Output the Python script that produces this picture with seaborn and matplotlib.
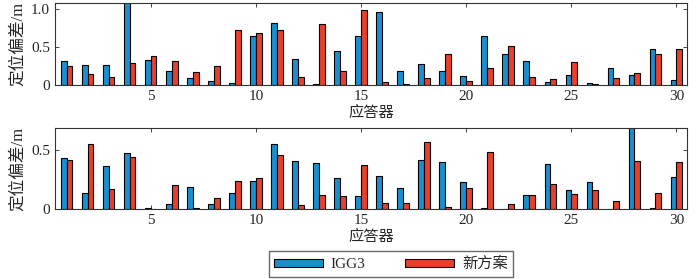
import numpy as np
import pandas as pd
import matplotlib.pyplot as plt
import seaborn as sns

# 应答器 1..30
idx = list(range(1, 31))

# top panel
top_igg3 = [0.31, 0.27, 0.26, 1.20, 0.33, 0.18, 0.09, 0.05, 0.02, 0.65,
            0.82, 0.34, 0.01, 0.45, 0.65, 0.955, 0.18, 0.275, 0.19, 0.115,
            0.65, 0.41, 0.31, 0.035, 0.13, 0.02, 0.23, 0.13, 0.48, 0.06]
top_new = [0.245, 0.147, 0.10, 0.285, 0.38, 0.31, 0.17, 0.245, 0.72, 0.68,
           0.73, 0.10, 0.80, 0.19, 0.99, 0.035, 0.01, 0.09, 0.41, 0.05,
           0.23, 0.52, 0.10, 0.075, 0.30, 0.01, 0.09, 0.16, 0.41, 0.47]

# bottom panel
bot_igg3 = [0.436, 0.134, 0.366, 0.478, 0.005, 0.04, 0.19, 0.04, 0.134, 0.24,
            0.556, 0.408, 0.388, 0.26, 0.11, 0.285, 0.18, 0.42, 0.397, 0.23,
            0.01, 0.0, 0.12, 0.383, 0.162, 0.23, 0.0, 0.75, 0.01, 0.27]
bot_new = [0.42, 0.556, 0.17, 0.444, 0.003, 0.207, 0.01, 0.09, 0.24, 0.26,
           0.46, 0.03, 0.12, 0.11, 0.374, 0.047, 0.047, 0.567, 0.02, 0.18,
           0.486, 0.04, 0.12, 0.215, 0.128, 0.162, 0.064, 0.408, 0.134, 0.40]

labels = ['IGG3', '新方案']
colors = ['#1a8fd0', '#e8402a']

sns.set_style('ticks')
plt.rcParams['font.family'] = ['Liberation Serif', 'Noto Sans CJK SC']
plt.rcParams['font.size'] = 11


def make_df(a, b):
    return pd.DataFrame({
        'x': idx + idx,
        'v': a + b,
        'g': [labels[0]] * len(a) + [labels[1]] * len(b),
    })


fig = plt.figure(figsize=(7, 2.79), dpi=100)
ax1 = fig.add_axes([55/700, 1 - 85/279, 632/700, 82/279])
ax2 = fig.add_axes([55/700, 1 - 209/279, 632/700, 81/279])

panels = [(ax1, top_igg3, top_new, 1.08, [0, 0.5, 1.0], ['0', '0.5', '1.0']),
          (ax2, bot_igg3, bot_new, 0.69, [0, 0.5], ['0', '0.5'])]

for ax, a, b, ymax, yt, ytl in panels:
    sns.barplot(data=make_df(a, b), x='x', y='v', hue='g', palette=colors,
                native_scale=True, width=0.55, edgecolor='black', linewidth=0.8,
                saturation=1, legend=False, ax=ax)
    ax.set_xlim(0.45, 30.5)
    ax.set_ylim(0, ymax)
    ax.set_xticks([5, 10, 15, 20, 25, 30])
    ax.set_yticks(yt)
    ax.set_yticklabels(ytl)
    ax.tick_params(direction='in', top=True, right=True, length=3, width=0.6)
    for s in ax.spines.values():
        s.set_linewidth(0.8)
        s.set_color('#333333')
    ax.set_xlabel('应答器', fontsize=11, labelpad=2)
    ax.set_ylabel('定位偏差/m', fontsize=12, labelpad=4)

handles = [plt.Rectangle((0, 0), 1, 1, facecolor=c, edgecolor='black', linewidth=0.8)
           for c in colors]
fig.legend(handles, labels, loc='center', bbox_to_anchor=(391/700, 1 - 264/279),
           ncol=2, frameon=True, fancybox=False, edgecolor='#444444',
           handlelength=3.2, handleheight=0.45, columnspacing=2.6, fontsize=11,
           borderpad=0.35, borderaxespad=0, handletextpad=0.5)

fig.savefig('out.png', dpi=100)
